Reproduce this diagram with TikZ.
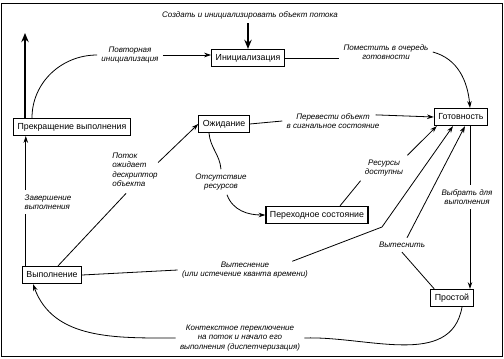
\documentclass[tikz,border=0pt]{standalone}
\usepackage{fontspec}
\setmainfont{Liberation Sans}
\usetikzlibrary{arrows.meta, positioning, calc}
\tikzset{
	state/.style={rectangle, draw, line width=1.2pt, align=center, font=\fontsize{8.8}{10}\selectfont, minimum height=17pt, inner xsep=4pt},
	lbl/.style={align=center, inner sep=4pt, font=\fontsize{8}{9.5}\selectfont\itshape},
	arr/.style={-{Stealth[length=2.4mm, width=1.6mm]}},
	bigarr/.style={line width=2.2pt, -{Stealth[length=3.2mm, width=2.6mm]}}
}

\begin{document}
\begin{tikzpicture}[x=1pt, y=-1pt, line width=0.8pt]
	\useasboundingbox (0,0) rectangle (504,359);
	\draw[line width=1pt] (1.5,3) rectangle (502.5,356);

	% states
	\node[state] (init) at (248,58) {Инициализация};
	\node[state] (ready) at (461,117) {Готовность};
	\node[state] (term) at (72,127) {Прекращение выполнения};
	\node[state] (wait) at (224,124) {Ожидание};
	\node[state] (trans) at (317,215) {Переходное состояние};
	\node[state] (run) at (52,275) {Выполнение};
	\node[state] (idle) at (452,298) {Простой};

	% labels
	\node[lbl] (create) at (250,15) {Создать и инициализировать объект потока};
	\node[lbl] (reinit) at (130,55) {Повторная\\инициализация};
	\node[lbl] (enqueue) at (386,52) {Поместить в очередь\\готовности};
	\node[lbl] (signal) at (333,121) {Перевести объект\\в сигнальное состояние};
	\node[lbl] (nores) at (221,182) {Отсутствие\\ресурсов};
	\node[lbl] (resok) at (384,168) {Ресурсы\\доступны};
	\node[lbl, align=left] (waitobj) at (135,170) {Поток\\ожидает\\дескриптор\\объекта};
	\node[lbl, align=left] (finish) at (48,202) {Завершение\\выполнения};
	\node[lbl] (preempt) at (245,270) {Вытеснение\\(или истечение кванта времени)};
	\node[lbl] (push) at (402,245) {Вытеснить};
	\node[lbl] (select) at (467,197) {Выбрать для\\выполнения};
	\node[lbl] (ctx) at (240,338) {Контекстное переключение\\на поток и начало его\\выполнения (диспетчеризация)};

	\coordinate (out) at (25,33);
	\coordinate (kink) at (382,227);
	\coordinate (rs) at ($(ready.south)+(9,0)$);
	\coordinate (fx) at ($(run.north west)+(4,0)$);

	\draw[bigarr] (create.south -| init.north) -- (init.north);
	\draw[bigarr] (term.north -| out) -- (out);

	\draw ($(term.north west)+(19,0)$) to[out=90, in=180] (reinit.west);
	\draw[arr] (reinit.east) -- (reinit.east -| init.west);

	\draw (init.east) -- (init.east -| enqueue.west);
	\draw[arr] (enqueue.east) to[out=-15, in=95] ($(ready.north)+(9,0)$);

	\draw (wait.east) -- (signal.west);
	\draw[arr] ($(signal.north east)+(-8,6)$) -- (ready.west);

	\draw ($(wait.south)+(-15,0)$) to[out=-85, in=95] (nores.north);
	\draw[arr] ($(nores.south)+(6,0)$) to[out=-70, in=180] (trans.west);

	\draw ($(trans.north)+(23,0)$) -- (resok.south west);
	\draw[arr] (resok.north east) -- ($(ready.south west)+(3,0)$);

	\draw ($(run.north)+(6,0)$) -- ($(waitobj.south)+(-9,2)$);
	\draw[arr] ($(waitobj.north east)+(-4,14)$) -- (wait.west);

	\draw (fx) -- (fx |- finish.south);
	\draw[arr] (fx |- finish.north) -- (fx |- term.south);

	\draw (run.east) -- (preempt.west);
	\draw[arr] ($(preempt.north east)+(-20,4)$) -- (kink) -- ($(ready.south)+(-8,0)$);

	\draw ($(idle.north west)+(4,0)$) -- (push.south);
	\draw[arr] ($(push.north)+(5,0)$) -- ($(ready.south)+(4,0)$);

	\draw (rs) -- (rs |- select.north);
	\draw[arr] (rs |- select.south) -- (rs |- idle.north);

	\draw ($(idle.south)+(10,0)$) to[out=-100, in=2] (ctx.east);
	\draw[arr] (ctx.west) to[out=180, in=-70] ($(run.south)+(-19,0)$);
\end{tikzpicture}
\end{document}
